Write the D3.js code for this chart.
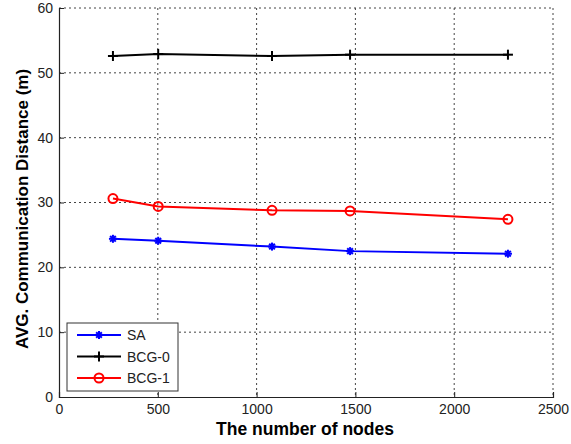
<!DOCTYPE html>
<html>
<head>
<style>
  body { margin: 0; background: #fff; font-family: "Liberation Sans", Arial, sans-serif; }
</style>
</head>
<body>
<script src="https://cdnjs.cloudflare.com/ajax/libs/d3/7.8.5/d3.min.js"></script>
<script>
// chart data
var nodes = [273, 502, 1078, 1473, 2272];
var sa = [24.4, 24.1, 23.2, 22.5, 22.1];
var bcg0 = [52.6, 52.9, 52.6, 52.8, 52.8];
var bcg1 = [30.6, 29.4, 28.8, 28.7, 27.4];
var seriesNames = ["SA", "BCG-0", "BCG-1"];
var xTicks = [0, 500, 1000, 1500, 2000, 2500];
var yTicks = [0, 10, 20, 30, 40, 50, 60];

var width = 571, height = 444;
var x0 = 59, x1 = 553, yTop = 8, yBot = 397;

var x = d3.scaleLinear().domain([0, 2500]).range([x0, x1]);
var y = d3.scaleLinear().domain([0, 60]).range([yBot, yTop]);

var svg = d3.select("body").append("svg")
    .attr("width", width)
    .attr("height", height);

// grid
svg.append("g").selectAll("line.gx")
    .data(xTicks.slice(1))
  .enter().append("line")
    .attr("x1", d => x(d)).attr("x2", d => x(d))
    .attr("y1", yTop).attr("y2", yBot)
    .style("stroke", "#444").style("stroke-width", 1)
    .style("stroke-dasharray", "2,3");

svg.append("g").selectAll("line.gy")
    .data(yTicks.slice(1))
  .enter().append("line")
    .attr("x1", x0).attr("x2", x1)
    .attr("y1", d => y(d)).attr("y2", d => y(d))
    .style("stroke", "#444").style("stroke-width", 1)
    .style("stroke-dasharray", "2,3");

// axes
var xAxis = svg.append("g")
    .attr("transform", "translate(0," + yBot + ")")
    .call(d3.axisBottom(x).tickValues(xTicks).tickFormat(d3.format("d")).tickSize(-5).tickPadding(7));
var yAxis = svg.append("g")
    .attr("transform", "translate(" + x0 + ",0)")
    .call(d3.axisLeft(y).tickValues(yTicks).tickFormat(d3.format("d")).tickSize(-5).tickPadding(6));

[xAxis, yAxis].forEach(function(a) {
  a.selectAll("path").style("stroke", "#222").style("stroke-width", 1.2);
  a.selectAll("line").style("stroke", "#222");
  a.selectAll("text").style("font-family", "Liberation Sans, Arial, sans-serif")
    .style("font-size", "14px").style("fill", "#222");
});

// axis labels
svg.append("text")
    .attr("x", 305).attr("y", 435)
    .attr("text-anchor", "middle")
    .style("font-size", "17.5px").style("font-weight", "bold")
    .text("The number of nodes");

svg.append("text")
    .attr("transform", "translate(28,209) rotate(-90)")
    .attr("text-anchor", "middle")
    .style("font-size", "17px").style("font-weight", "bold")
    .text("AVG. Communication Distance (m)");

// markers
function drawMarker(g, type, color) {
  if (type === "star") {
    [0, 45, 90, 135].forEach(function(a) {
      g.append("line").attr("x1", -4).attr("x2", 4).attr("y1", 0).attr("y2", 0)
        .attr("transform", "rotate(" + a + ")")
        .style("stroke", color).style("stroke-width", 2);
    });
  } else if (type === "plus") {
    g.append("line").attr("x1", -5).attr("x2", 5).attr("y1", 0).attr("y2", 0)
      .style("stroke", color).style("stroke-width", 2);
    g.append("line").attr("x1", 0).attr("x2", 0).attr("y1", -5).attr("y2", 5)
      .style("stroke", color).style("stroke-width", 2);
  } else {
    g.append("circle").attr("r", 4.5)
      .style("fill", "none").style("stroke", color).style("stroke-width", 2);
  }
}

var series = [
  { name: seriesNames[0], values: sa, color: "#0000ff", marker: "star" },
  { name: seriesNames[1], values: bcg0, color: "#000000", marker: "plus" },
  { name: seriesNames[2], values: bcg1, color: "#ff0000", marker: "circle" }
];

var line = d3.line()
    .x(d => x(d[0]))
    .y(d => y(d[1]));

series.forEach(function(s) {
  var pts = nodes.map((n, i) => [n, s.values[i]]);
  svg.append("path")
      .datum(pts)
      .attr("d", line)
      .style("fill", "none")
      .style("stroke", s.color)
      .style("stroke-width", 2);
  pts.forEach(function(p) {
    var g = svg.append("g").attr("transform", "translate(" + x(p[0]) + "," + y(p[1]) + ")");
    drawMarker(g, s.marker, s.color);
  });
});

// legend
var leg = svg.append("g");
leg.append("rect")
    .attr("x", 67).attr("y", 323).attr("width", 111).attr("height", 68)
    .style("fill", "#fff").style("stroke", "#333").style("stroke-width", 1);

series.forEach(function(s, i) {
  var ly = 335 + i * 21.5;
  leg.append("line")
      .attr("x1", 77).attr("x2", 121).attr("y1", ly).attr("y2", ly)
      .style("stroke", s.color).style("stroke-width", 2);
  drawMarker(leg.append("g").attr("transform", "translate(99," + ly + ")"), s.marker, s.color);
  leg.append("text")
      .attr("x", 127).attr("y", ly + 5)
      .style("font-size", "14px").style("fill", "#222")
      .text(s.name);
});
</script>
</body>
</html>
